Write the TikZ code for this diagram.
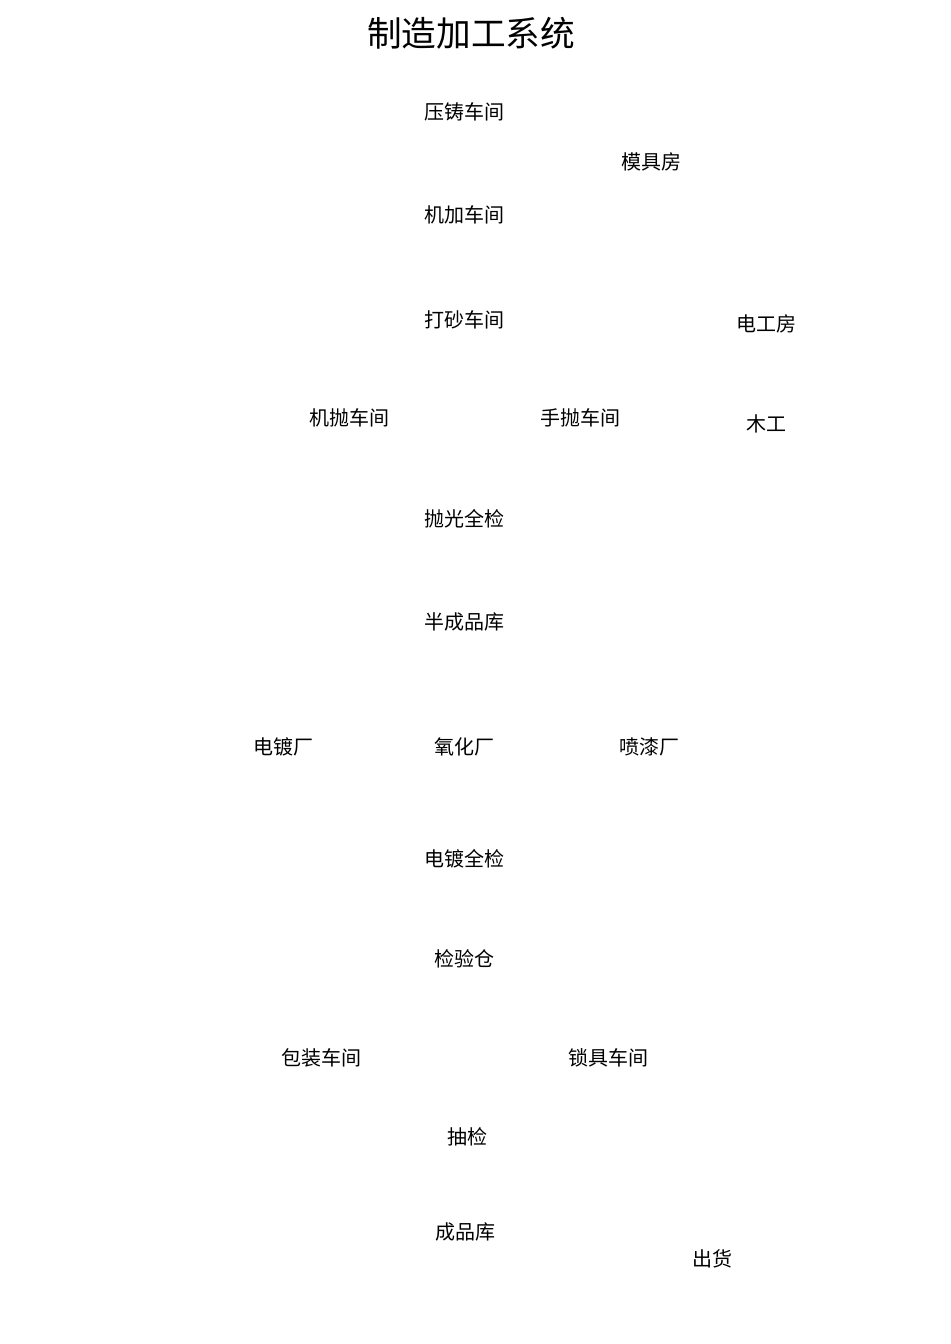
\documentclass[tikz,border=0pt]{standalone}
\usepackage{fontspec}
\newfontfamily\cjk{Noto Sans CJK SC}
\tikzset{
	unit/.style={font=\cjk\fontsize{15}{15}\selectfont, inner sep=0pt},
	heading/.style={font=\cjk\fontsize{26}{26}\selectfont, inner sep=0pt}
}

\begin{document}
\begin{tikzpicture}[x=0.75pt, y=-0.75pt]
		%%%%% START %%%%%
		\useasboundingbox (0, 0) rectangle (950, 1344);
		
		\node[heading] (title) at (471, 33) {制造加工系统};
		
		\node[unit] (yazhu) at (464, 112) {压铸车间};
		\node[unit] (muju) at (651, 162) {模具房};
		\node[unit] (jijia) at (464, 215) {机加车间};
		\node[unit] (dasha) at (464, 320) {打砂车间};
		\node[unit] (diangong) at (766, 324) {电工房};
		
		\node[unit] (jipao) at (349, 418) {机抛车间};
		\node[unit] (shoupao) at (580, 418) {手抛车间};
		\node[unit] (mugong) at (766, 424) {木工};
		
		\node[unit] (paoguang) at (464, 519) {抛光全检};
		\node[unit] (banchengpin) at (464, 622) {半成品库};
		
		\node[unit] (diandu) at (283, 747) {电镀厂};
		\node[unit] (yanghua) at (464, 747) {氧化厂};
		\node[unit] (penqi) at (649, 747) {喷漆厂};
		
		\node[unit] (dianduqj) at (464, 859) {电镀全检};
		\node[unit] (jianyan) at (464, 959) {检验仓};
		
		\node[unit] (baozhuang) at (321, 1058) {包装车间};
		\node[unit] (suoju) at (608, 1058) {锁具车间};
		
		\node[unit] (choujian) at (467, 1137) {抽检};
		\node[unit] (chengpin) at (465, 1232) {成品库};
		\node[unit] (chuhuo) at (712, 1259) {出货};
		%%%%% END %%%%%
	\end{tikzpicture}
\end{document}
